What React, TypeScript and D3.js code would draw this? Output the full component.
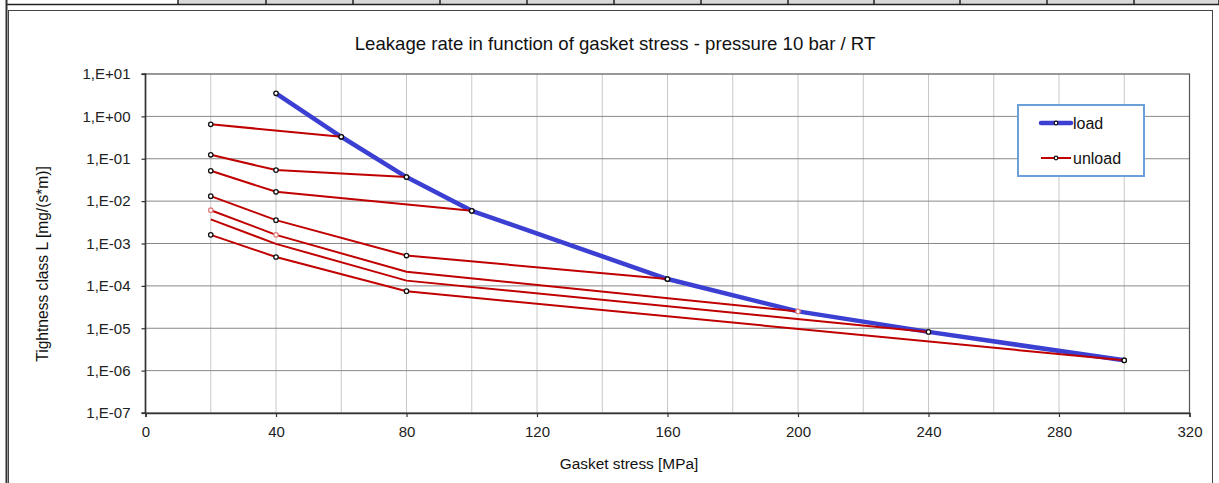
import { useEffect, useRef } from 'react';
import * as d3 from 'd3';

// load curve
const loadX = [40, 60, 80, 100, 160, 200, 240, 300];
const loadY = [3.5, 0.33, 0.037, 0.0059, 1.45e-4, 2.5e-5, 8.2e-6, 1.75e-6];

// unload curves, each starting from one load point going back down to 20 MPa
const unload1X = [20, 60];
const unload1Y = [0.65, 0.33];
const unload2X = [20, 40, 80];
const unload2Y = [0.124, 0.054, 0.037];
const unload3X = [20, 40, 100];
const unload3Y = [0.052, 0.0166, 0.0059];
const unload4X = [20, 40, 80, 160];
const unload4Y = [0.0131, 0.00356, 5.2e-4, 1.45e-4];
const unload5X = [20, 40, 80, 200];
const unload5Y = [0.0061, 0.0016, 2.15e-4, 2.5e-5];
const unload6X = [20, 40, 80, 240];
const unload6Y = [0.0037, 0.00098, 1.33e-4, 8.2e-6];
const unload7X = [20, 40, 80, 300];
const unload7Y = [0.0016, 4.8e-4, 7.5e-5, 1.75e-6];

const xTicks = [0, 40, 80, 120, 160, 200, 240, 280, 320];
const yTicks = [1e1, 1e0, 1e-1, 1e-2, 1e-3, 1e-4, 1e-5, 1e-6, 1e-7];

const title = 'Leakage rate in function of gasket stress - pressure 10 bar / RT';
const xTitle = 'Gasket stress [MPa]';
const yTitle = 'Tightness class L [mg/(s*m)]';

function fmtExp(v: number) {
  const e = Math.round(Math.log10(v));
  return `1,E${e < 0 ? '-' : '+'}${String(Math.abs(e)).padStart(2, '0')}`;
}

export default function App() {
  const ref = useRef<SVGSVGElement>(null);

  useEffect(() => {
    const W = 1219, H = 483;
    const left = 145.5, right = 1189.5, top = 74, bottom = 413;
    const font = 'Arial, "Liberation Sans", sans-serif';

    const svg = d3.select(ref.current).attr('width', W).attr('height', H);
    svg.selectAll('*').remove();

    const x = d3.scaleLinear().domain([0, 320]).range([left, right]);
    const y = d3.scaleLog().domain([1e-7, 1e1]).range([bottom, top]);

    // page decoration: table row on top and frame
    svg.append('rect').attr('width', W).attr('height', H).attr('fill', '#fff');
    const cellEdges = [178, 266, 353, 440, 527, 614, 701, 788, 874, 960, 1047, 1134, 1219];
    svg.append('rect').attr('x', 178).attr('y', 0).attr('width', W - 178).attr('height', 4).attr('fill', '#d9d9d9');
    svg.append('g').selectAll('line').data(cellEdges).join('line')
      .attr('x1', d => d).attr('x2', d => d).attr('y1', 0).attr('y2', 5)
      .attr('stroke', '#222').attr('stroke-width', 1.5);
    svg.append('line').attr('x1', 6).attr('x2', W).attr('y1', 4.5).attr('y2', 4.5)
      .attr('stroke', '#222').attr('stroke-width', 1.5);
    svg.append('rect').attr('x', 8.5).attr('y', 10.5).attr('width', 1204).attr('height', 490)
      .attr('fill', 'none').attr('stroke', '#444').attr('stroke-width', 1);
    svg.append('line').attr('x1', 6.5).attr('x2', 6.5).attr('y1', 0).attr('y2', H)
      .attr('stroke', '#333').attr('stroke-width', 2);

    // grid
    const g = svg.append('g');
    g.selectAll('.vg').data(d3.range(20, 320, 20)).join('line')
      .attr('x1', d => x(d)).attr('x2', d => x(d)).attr('y1', top).attr('y2', bottom)
      .attr('stroke', '#c8c8c8').attr('stroke-width', 1);
    g.selectAll('.hg').data(yTicks.slice(1, -1)).join('line')
      .attr('x1', left).attr('x2', right).attr('y1', d => y(d)).attr('y2', d => y(d))
      .attr('stroke', '#888').attr('stroke-width', 1);
    g.append('rect').attr('x', left).attr('y', top).attr('width', right - left).attr('height', bottom - top)
      .attr('fill', 'none').attr('stroke', '#555').attr('stroke-width', 1.2);

    // axes
    const xAxis = svg.append('g').attr('transform', `translate(0,${bottom})`)
      .call(d3.axisBottom(x).tickValues(xTicks).tickSize(4).tickPadding(9).tickFormat(d3.format('d')));
    const yAxis = svg.append('g').attr('transform', `translate(${left},0)`)
      .call(d3.axisLeft(y).tickValues(yTicks).tickSize(4).tickPadding(11).tickFormat(d => fmtExp(+d)));
    [xAxis, yAxis].forEach(a => {
      a.select('.domain').attr('stroke', '#333').attr('stroke-width', 1.6);
      a.selectAll('.tick line').attr('stroke', '#333').attr('stroke-width', 1.2);
      a.selectAll('.tick text').attr('fill', '#222').style('font-family', font).style('font-size', '15px');
    });
    yAxis.select('.domain').attr('d', `M-4,${bottom}H0V${top}H-4`);

    // titles
    svg.append('text').attr('x', 615).attr('y', 50).attr('text-anchor', 'middle')
      .style('font-family', font).style('font-size', '18.6px').attr('fill', '#111').text(title);
    svg.append('text').attr('x', 629).attr('y', 469).attr('text-anchor', 'middle')
      .style('font-family', font).style('font-size', '15.4px').attr('fill', '#111').text(xTitle);
    svg.append('text').attr('transform', 'translate(48,264) rotate(-90)').attr('text-anchor', 'middle')
      .style('font-family', font).style('font-size', '15.6px').attr('fill', '#111').text(yTitle);

    const line = d3.line<[number, number]>().x(d => x(d[0])).y(d => y(d[1]));
    const zip = (xs: number[], ys: number[]) => xs.map((v, i) => [v, ys[i]] as [number, number]);

    const loadPts = zip(loadX, loadY);
    svg.append('path').attr('d', line(loadPts)).attr('fill', 'none')
      .attr('stroke', '#3b3fd2').attr('stroke-width', 4.5).attr('stroke-linejoin', 'round');

    const unloads = [
      { pts: zip(unload1X, unload1Y), marker: 'black' },
      { pts: zip(unload2X, unload2Y), marker: 'black' },
      { pts: zip(unload3X, unload3Y), marker: 'black' },
      { pts: zip(unload4X, unload4Y), marker: 'black' },
      { pts: zip(unload5X, unload5Y), marker: 'pink' },
      { pts: zip(unload6X, unload6Y), marker: 'none' },
      { pts: zip(unload7X, unload7Y), marker: 'black' },
    ];
    svg.append('g').selectAll('path').data(unloads).join('path')
      .attr('d', d => line(d.pts)).attr('fill', 'none')
      .attr('stroke', '#c00000').attr('stroke-width', 2);

    const drawMarkers = (pts: [number, number][], color: string) => {
      svg.append('g').selectAll('circle').data(pts).join('circle')
        .attr('cx', d => x(d[0])).attr('cy', d => y(d[1])).attr('r', 2.2)
        .attr('fill', '#fff').attr('stroke', color).attr('stroke-width', 1.3);
    };
    drawMarkers(loadPts.filter(d => d[0] !== 200), '#111');
    unloads.forEach(u => {
      if (u.marker === 'black') drawMarkers(u.pts, '#111');
      if (u.marker === 'pink') drawMarkers(u.pts.filter(d => d[0] !== 80), '#e08080');
    });

    // legend
    const lg = svg.append('g');
    lg.append('rect').attr('x', 1018).attr('y', 105).attr('width', 126).attr('height', 71)
      .attr('fill', '#fff').attr('stroke', '#6a9fd8').attr('stroke-width', 2);
    const items = [
      { label: 'load', color: '#3b3fd2', w: 4.5, cy: 123 },
      { label: 'unload', color: '#c00000', w: 2, cy: 158 },
    ];
    items.forEach(it => {
      lg.append('line').attr('x1', 1041).attr('x2', 1071).attr('y1', it.cy).attr('y2', it.cy)
        .attr('stroke', it.color).attr('stroke-width', it.w).attr('stroke-linecap', it.w > 3 ? 'round' : 'butt');
      lg.append('circle').attr('cx', 1056).attr('cy', it.cy).attr('r', 1.8)
        .attr('fill', '#fff').attr('stroke', '#111').attr('stroke-width', 1.2);
      lg.append('text').attr('x', 1073).attr('y', it.cy + 5.5)
        .style('font-family', font).style('font-size', '16px').attr('fill', '#111').text(it.label);
    });
  });

  return (
    <div style={{ position: 'absolute', left: 0, top: 0 }}>
      <svg ref={ref} style={{ display: 'block' }}></svg>
    </div>
  );
}
